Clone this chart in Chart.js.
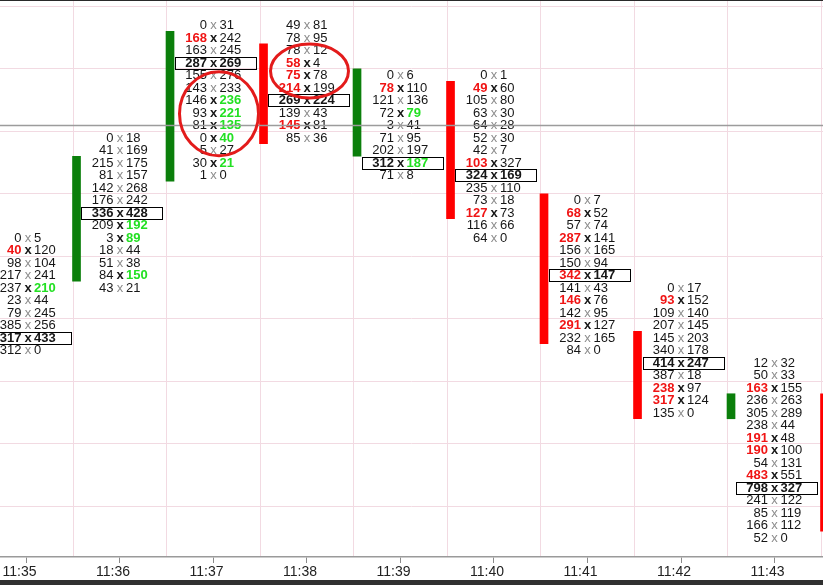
<!DOCTYPE html>
<html><head><meta charset="utf-8">
<script src="https://cdn.jsdelivr.net/npm/chart.js@4"></script>
<style>
html,body{margin:0;padding:0;background:#303030;width:823px;height:585px;overflow:hidden}
#wrap{position:absolute;left:0;top:0;width:823px;height:580px;background:#fff}
canvas{display:block}
</style></head><body>
<div id="wrap"><canvas id="c" width="823" height="580"></canvas></div>
<script>
// ---- data ----
const times = ['11:35','11:36','11:37','11:38','11:39','11:40','11:41','11:42','11:43','11:44'];
// top price level (in ticks) of each minute's footprint ladder
const highs = [83, 91, 100, 100, 96, 96, 86, 79, 73];
const bidVols = [
  [0,40,98,217,237,23,79,385,317,312],
  [0,41,215,81,142,176,336,209,3,18,51,84,43],
  [0,168,163,287,155,143,146,93,81,0,5,30,1],
  [49,78,78,58,75,214,269,139,145,85],
  [0,78,121,72,3,71,202,312,71],
  [0,49,105,63,64,52,42,103,324,235,73,127,116,64],
  [0,68,57,287,156,150,342,141,146,142,291,232,84],
  [0,93,109,207,145,340,414,387,238,317,135],
  [12,50,163,236,305,238,191,190,54,483,798,241,85,166,52]
];
const askVols = [
  [5,120,104,241,210,44,245,256,433,0],
  [18,169,175,157,268,242,428,192,89,44,38,150,21],
  [31,242,245,269,276,233,236,221,135,40,27,21,0],
  [81,95,12,4,78,199,224,43,81,36],
  [6,110,136,79,41,95,197,187,8],
  [1,60,80,30,28,30,7,327,169,110,18,73,66,0],
  [7,52,74,141,165,94,147,43,76,95,127,165,0],
  [17,152,140,145,203,178,247,18,97,124,0],
  [32,33,155,263,289,44,48,100,131,551,327,122,119,112,0]
];
// row indices (within each ladder) of bid imbalances (red) and ask imbalances (green)
const bidImb = [[1],[],[1],[3,4,5,8],[1],[1,7,11],[1,3,6,8,10],[1,8,9],[2,6,7,9]];
const askImb = [[4],[7,8,11],[6,7,8,9,11],[],[3,7],[],[],[],[]];
// point-of-control row index per minute
const pocRows = [8,6,3,6,7,8,6,6,10];
// candle open / close (price levels)
const candleOpen  = [null, 80, 88, 98, 90, 95, 86, 75, 69, 70];
const candleClose = [null, 89, 99, 91, 96, 85, 75, 69, 70, 60];
const lastPrice = 92;

// ---- styles ----
const RED = '#f01414', GREEN = '#22e022', DARK = '#161616', GRAY = '#8c8c8c';
const CANDLE_UP = '#0b7f0b', CANDLE_DN = '#ff0000';
const GRID = '#f2dae2';
const FONT = '13px "Liberation Sans", Arial, sans-serif';
const BFONT = 'bold ' + FONT;

const candleData = [], candleColors = [];
for (let i = 0; i < candleOpen.length; i++) {
  if (candleOpen[i] === null) continue;
  const o = candleOpen[i], c = candleClose[i];
  candleData.push({x: i - 0.465, y: [Math.min(o, c) - 0.5, Math.max(o, c) + 0.5]});
  candleColors.push(c >= o ? CANDLE_UP : CANDLE_DN);
}

const footprint = {
  id: 'footprint',
  afterDatasetsDraw(chart) {
    const {ctx, chartArea} = chart;
    const xs = chart.scales.x, ys = chart.scales.y;
    ctx.save();
    ctx.beginPath();
    ctx.rect(chartArea.left, chartArea.top, chartArea.right - chartArea.left, chartArea.bottom - chartArea.top);
    ctx.clip();
    ctx.textBaseline = 'middle';
    for (let i = 0; i < highs.length; i++) {
      const xc = xs.getPixelForValue(i) + (i === 0 ? 1.5 : 0);
      const b = bidVols[i], a = askVols[i];
      for (let r = 0; r < b.length; r++) {
        const yc = ys.getPixelForValue(highs[i] - r);
        const poc = r === pocRows[i];
        const red = bidImb[i].includes(r), green = askImb[i].includes(r);
        const hi = poc || red || green;
        if (poc) {
          ctx.strokeStyle = '#000'; ctx.lineWidth = 1;
          ctx.strokeRect(Math.round(xc - 38.5) + 0.5, Math.round(yc - 6) + 0.5, 81, 12);
        }
        ctx.font = (poc || red) ? BFONT : FONT;
        ctx.fillStyle = red ? RED : DARK;
        ctx.textAlign = 'right';
        ctx.fillText(String(b[r]), xc - 6.5, yc + 0.5);
        ctx.font = hi ? BFONT : FONT;
        ctx.fillStyle = hi ? DARK : GRAY;
        ctx.textAlign = 'center';
        ctx.fillText('x', xc, yc + 0.5);
        ctx.font = (poc || green) ? BFONT : FONT;
        ctx.fillStyle = green ? GREEN : DARK;
        ctx.textAlign = 'left';
        ctx.fillText(String(a[r]), xc + 6, yc + 0.5);
      }
    }
    // last price line
    const py = ys.getPixelForValue(lastPrice);
    ctx.strokeStyle = '#9c9c9c'; ctx.lineWidth = 1.5;
    ctx.beginPath(); ctx.moveTo(chartArea.left, py + 0.5); ctx.lineTo(chartArea.right, py + 0.5); ctx.stroke();
    // annotation ellipses
    ctx.strokeStyle = '#e31b1b'; ctx.lineWidth = 3;
    ctx.beginPath();
    ctx.ellipse(xs.getPixelForValue(2) + 5.5, ys.getPixelForValue(92.9), 39.5, 42, 0, 0, Math.PI * 2);
    ctx.stroke();
    ctx.beginPath();
    ctx.ellipse(xs.getPixelForValue(3) + 2.5, ys.getPixelForValue(96.32), 39, 27, 0, 0, Math.PI * 2);
    ctx.stroke();
    ctx.restore();
  },
  afterDraw(chart) {
    const ctx = chart.ctx;
    ctx.save();
    ctx.fillStyle = '#2a2a2a';
    ctx.fillRect(0, 0, chart.width, 1);
    ctx.restore();
  }
};

const xTicks = [];
for (let i = 0; i <= 8; i++) { xTicks.push(i); xTicks.push(i + 0.5); }
const yTicks = [];
for (let v = 61.5; v <= 101.5; v += 5) yTicks.push(v);

new Chart(document.getElementById('c'), {
  type: 'bar',
  data: {
    datasets: [{
      data: candleData,
      backgroundColor: candleColors,
      borderWidth: 0,
      barThickness: 8,
      grouped: false
    }]
  },
  options: {
    responsive: false,
    animation: false,
    devicePixelRatio: 1,
    layout: {padding: 0},
    plugins: {legend: {display: false}, tooltip: {enabled: false}},
    scales: {
      x: {
        type: 'linear',
        offset: false,
        min: -26.5 / 93.5,
        max: (823 - 26.5) / 93.5,
        afterBuildTicks(s) { s.ticks = xTicks.map(v => ({value: v})); },
        afterFit(s) { s.height = 23; },
        grid: {
          offset: false,
          color: c => (c.tick && Number.isInteger(c.tick.value)) ? 'rgba(0,0,0,0)' : GRID,
          tickColor: c => (c.tick && Number.isInteger(c.tick.value)) ? '#8a8a8a' : 'rgba(0,0,0,0)',
          tickLength: 6,
          lineWidth: 1
        },
        border: {display: true, color: '#9a9a9a', width: 1.5},
        ticks: {
          autoSkip: false, maxRotation: 0, minRotation: 0, padding: 1,
          labelOffset: -7,
          color: '#222',
          font: {family: '"Liberation Sans Narrow", "Arial Narrow", Arial, sans-serif', size: 14},
          callback: v => Number.isInteger(v) ? times[v] : ''
        }
      },
      y: {
        type: 'linear',
        min: 57.44,
        max: 102,
        afterBuildTicks(s) { s.ticks = yTicks.map(v => ({value: v})); },
        grid: {color: GRID, drawTicks: false, lineWidth: 1},
        border: {display: false},
        ticks: {display: false}
      }
    }
  },
  plugins: [footprint]
});
</script>
</body></html>
